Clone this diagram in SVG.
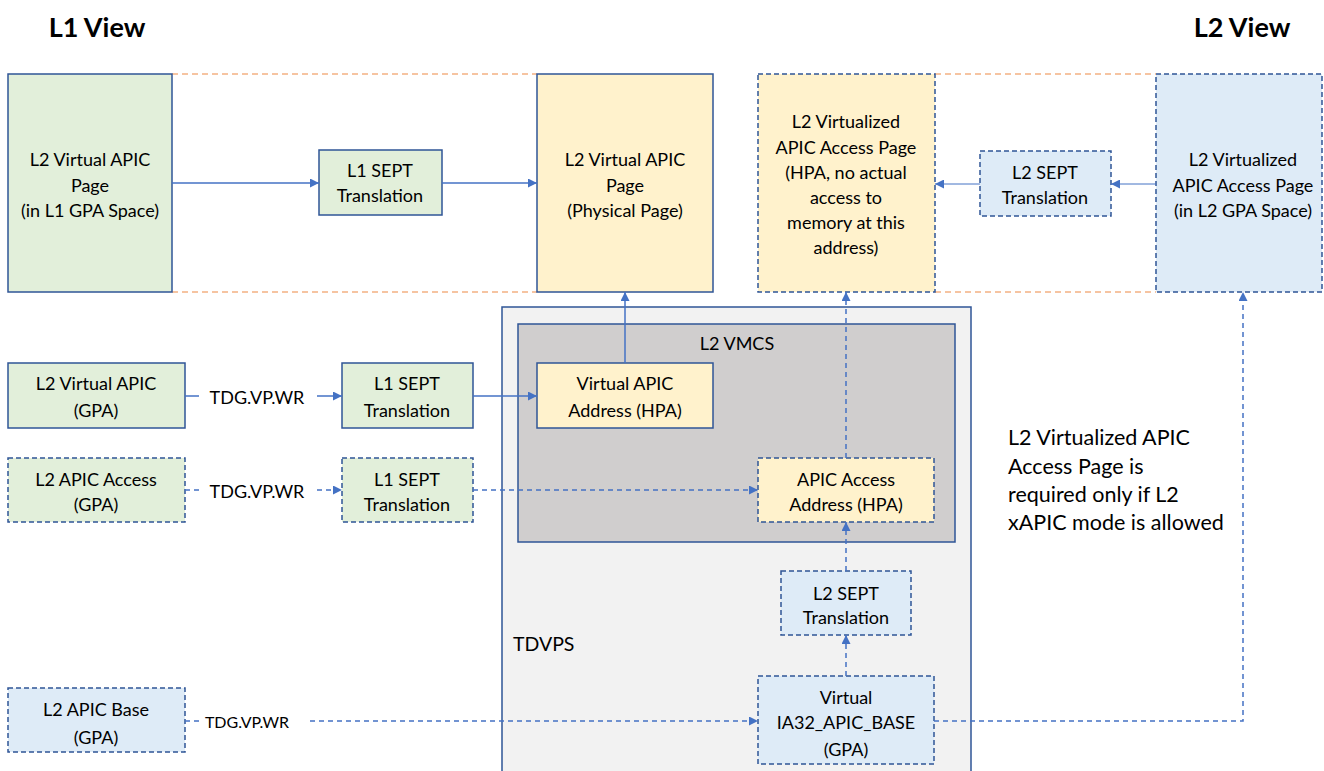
<svg xmlns="http://www.w3.org/2000/svg" width="1324" height="771" viewBox="0 0 1324 771">
<defs>
<marker id="arr" viewBox="0 0 10 10" refX="10" refY="5" markerWidth="9" markerHeight="9" markerUnits="userSpaceOnUse" orient="auto">
<path d="M0,0 L10,5 L0,10 z" fill="#4472c4"/>
</marker>
</defs>
<style>
text{font-family:Lato,"Liberation Sans",sans-serif;font-size:18px;fill:#000;text-anchor:middle;dominant-baseline:central}
.title{font-weight:bold;font-size:27px}
.left{text-anchor:start}
.note{font-size:21.5px}
.box{stroke:#2f5597;stroke-width:1.5}
.dash{stroke-dasharray:5,3}
.green{fill:#e2efda}
.yellow{fill:#fff2cc}
.blue{fill:#deebf7}
.con{stroke:#4472c4;stroke-width:1.5;fill:none}
.thin{stroke:#4472c4;stroke-width:1;fill:none}
.cdash{stroke-dasharray:5,4}
.orange{stroke:#f4b183;stroke-width:1.5;stroke-dasharray:6,4;fill:none}
</style>

<text class="title" x="97" y="26">L1 View</text>
<text class="title" x="1242" y="26">L2 View</text>

<g id="guides">
<line class="orange" x1="172" y1="74" x2="537" y2="74"/>
<line class="orange" x1="172" y1="292" x2="537" y2="292"/>
<line class="orange" x1="935" y1="74" x2="1156" y2="74"/>
<line class="orange" x1="935" y1="292" x2="1156" y2="292"/>
</g>

<g id="tdvps">
<rect x="502" y="307" width="469" height="480" fill="#f2f2f2" class="box"/>
<text class="left" x="513" y="643" style="font-size:19.5px">TDVPS</text>
</g>
<g id="l2vmcs">
<rect x="518" y="324" width="437" height="218" fill="#d0cece" class="box"/>
<text x="737" y="343">L2 VMCS</text>
</g>

<g id="l2-vapic-page-l1">
<rect class="box green" x="8" y="74" width="164" height="218"/>
<text x="90" y="159">L2 Virtual APIC</text>
<text x="90" y="185">Page</text>
<text x="90" y="210">(in L1 GPA Space)</text>
</g>
<g id="l1-sept-top">
<rect class="box green" x="319" y="150" width="123" height="65"/>
<text x="380" y="170">L1 SEPT</text>
<text x="380" y="195">Translation</text>
</g>
<g id="l2-vapic-page-phys">
<rect class="box yellow" x="537" y="74" width="176" height="218"/>
<text x="625" y="159">L2 Virtual APIC</text>
<text x="625" y="185">Page</text>
<text x="625" y="210">(Physical Page)</text>
</g>
<g id="l2-vapic-access-hpa">
<rect class="box yellow dash" x="758" y="74" width="177" height="218"/>
<text x="846" y="121">L2 Virtualized</text>
<text x="846" y="147">APIC Access Page</text>
<text x="846" y="172">(HPA, no actual</text>
<text x="846" y="197">access to</text>
<text x="846" y="222">memory at this</text>
<text x="846" y="247">address)</text>
</g>
<g id="l2-sept-top">
<rect class="box blue dash" x="980" y="151" width="131" height="65"/>
<text x="1045" y="172">L2 SEPT</text>
<text x="1045" y="197">Translation</text>
</g>
<g id="l2-vapic-access-l2gpa">
<rect class="box blue dash" x="1156" y="74" width="166" height="218"/>
<text x="1243" y="159">L2 Virtualized</text>
<text x="1243" y="185">APIC Access Page</text>
<text x="1243" y="210">(in L2 GPA Space)</text>
</g>

<g id="l2-vapic-gpa">
<rect class="box green" x="8" y="363" width="177" height="65"/>
<text x="96" y="383">L2 Virtual APIC</text>
<text x="96" y="410">(GPA)</text>
</g>
<g id="l1-sept-mid">
<rect class="box green" x="342" y="363" width="131" height="65"/>
<text x="407" y="383">L1 SEPT</text>
<text x="407" y="410">Translation</text>
</g>
<g id="l2-apic-access-gpa">
<rect class="box green dash" x="8" y="458" width="177" height="64"/>
<text x="96" y="479">L2 APIC Access</text>
<text x="96" y="504">(GPA)</text>
</g>
<g id="l1-sept-mid2">
<rect class="box green dash" x="342" y="458" width="131" height="64"/>
<text x="407" y="479">L1 SEPT</text>
<text x="407" y="504">Translation</text>
</g>
<g id="vapic-addr">
<rect class="box yellow" x="537" y="363" width="176" height="65"/>
<text x="625" y="383">Virtual APIC</text>
<text x="625" y="410">Address (HPA)</text>
</g>
<g id="apic-access-addr">
<rect class="box yellow dash" x="758" y="458" width="176" height="64"/>
<text x="846" y="479">APIC Access</text>
<text x="846" y="504">Address (HPA)</text>
</g>
<g id="l2-sept-bottom">
<rect class="box blue dash" x="781" y="571" width="130" height="64"/>
<text x="846" y="593">L2 SEPT</text>
<text x="846" y="617">Translation</text>
</g>
<g id="virt-ia32-apic-base">
<rect class="box blue dash" x="758" y="676" width="176" height="88"/>
<text x="846" y="697">Virtual</text>
<text x="846" y="722">IA32_APIC_BASE</text>
<text x="846" y="749">(GPA)</text>
</g>
<g id="l2-apic-base-gpa">
<rect class="box blue dash" x="8" y="688" width="177" height="64"/>
<text x="96" y="709">L2 APIC Base</text>
<text x="96" y="737">(GPA)</text>
</g>

<g id="note">
<text class="left note" x="1008" y="437">L2 Virtualized APIC</text>
<text class="left note" x="1008" y="466">Access Page is</text>
<text class="left note" x="1008" y="494">required only if L2</text>
<text class="left note" x="1008" y="522">xAPIC mode is allowed</text>
</g>

<g id="connectors">
<line class="con" x1="172" y1="183" x2="319" y2="183" marker-end="url(#arr)"/>
<line class="con" x1="442" y1="183" x2="537" y2="183" marker-end="url(#arr)"/>
<line class="thin" x1="1156" y1="184" x2="1111" y2="184" marker-end="url(#arr)"/>
<line class="thin" x1="980" y1="184" x2="935" y2="184" marker-end="url(#arr)"/>
<line class="con" x1="185" y1="396" x2="199" y2="396"/>
<text x="257" y="397">TDG.VP.WR</text>
<line class="con" x1="317" y1="396" x2="342" y2="396" marker-end="url(#arr)"/>
<line class="con" x1="473" y1="396" x2="537" y2="396" marker-end="url(#arr)"/>
<line class="con" x1="625" y1="363" x2="625" y2="292" marker-end="url(#arr)"/>
<line class="con cdash" x1="185" y1="490" x2="199" y2="490"/>
<text x="257" y="491">TDG.VP.WR</text>
<line class="con cdash" x1="317" y1="490" x2="342" y2="490" marker-end="url(#arr)"/>
<line class="con cdash" x1="473" y1="490" x2="758" y2="490" marker-end="url(#arr)"/>
<line class="con cdash" x1="846" y1="458" x2="846" y2="292" marker-end="url(#arr)"/>
<line class="con cdash" x1="846" y1="571" x2="846" y2="522" marker-end="url(#arr)"/>
<line class="con cdash" x1="846" y1="676" x2="846" y2="635" marker-end="url(#arr)"/>
<line class="con cdash" x1="185" y1="721" x2="199" y2="721"/>
<text x="247" y="721" style="font-size:16px">TDG.VP.WR</text>
<line class="con cdash" x1="310" y1="721" x2="758" y2="721" marker-end="url(#arr)"/>
<polyline class="con cdash" points="934,721 1243,721 1243,292" marker-end="url(#arr)"/>
</g>
</svg>
